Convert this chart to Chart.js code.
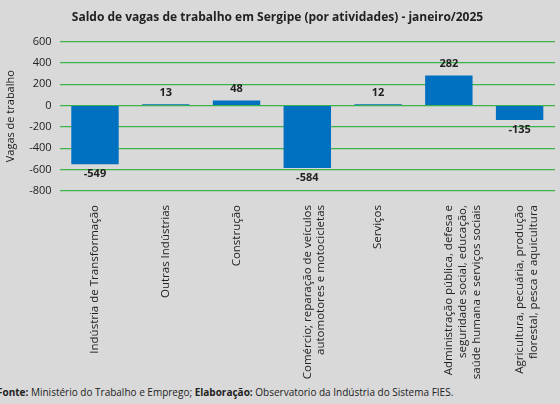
<!DOCTYPE html>
<html>
<head>
<meta charset="utf-8">
<script src="https://cdn.jsdelivr.net/npm/chart.js@4"></script>
<style>
  body { margin: 0; background: #d9d9d9; }
  #wrap { width: 560px; height: 382px; position: relative; }
  #foot { font-size: 10px; color: #222; margin-top: 3px; margin-left: -3px; font-family: "Liberation Sans Narrow", "Open Sans", sans-serif; }
</style>
</head>
<body>
<div id="wrap"><canvas id="chart"></canvas></div>
<div id="foot"><b>Fonte:</b> Ministério do Trabalho e Emprego; <b>Elaboração:</b> Observatorio da Indústria do Sistema FIES.</div>
<script>
const categories = [
  ["Indústria de Transformação"],
  ["Outras Indústrias"],
  ["Construção"],
  ["Comércio; reparação de veículos", "automotores e motocicletas"],
  ["Serviços"],
  ["Administração pública, defesa e", "seguridade social, educação,", "saúde humana e serviços sociais"],
  ["Agricultura, pecuária, produção", "florestal, pesca e aquicultura"]
];
const saldo = [-549, 13, 48, -584, 12, 282, -135];

const narrow = '"Liberation Sans Narrow", "Open Sans", sans-serif';

// value labels above positive bars, below negative ones
const valueLabels = {
  id: 'valueLabels',
  afterDatasetsDraw(chart) {
    const ctx = chart.ctx;
    ctx.save();
    ctx.font = 'bold 11px ' + narrow;
    ctx.fillStyle = '#222';
    ctx.textAlign = 'center';
    chart.getDatasetMeta(0).data.forEach((bar, i) => {
      const v = saldo[i];
      if (v >= 0) {
        ctx.textBaseline = 'bottom';
        ctx.fillText(v, bar.x, bar.y - 6);
      } else {
        ctx.textBaseline = 'top';
        ctx.fillText(v, bar.x, bar.y + 4);
      }
    });
    ctx.restore();
  }
};

new Chart(document.getElementById('chart'), {
  type: 'bar',
  data: {
    labels: categories,
    datasets: [{
      data: saldo,
      backgroundColor: '#0070c0',
      categoryPercentage: 0.67,
      barPercentage: 1
    }]
  },
  options: {
    responsive: true,
    maintainAspectRatio: false,
    animation: false,
    layout: { padding: { left: 0, right: 5, top: 0 } },
    plugins: {
      legend: { display: false },
      tooltip: { enabled: false },
      title: {
        display: true,
        text: 'Saldo de vagas de trabalho em Sergipe (por atividades) - janeiro/2025',
        color: '#222',
        font: { size: 12, weight: 'bold', family: narrow },
        padding: { top: 10, bottom: 17 }
      }
    },
    scales: {
      y: {
        min: -800, max: 600,
        ticks: { stepSize: 200, color: '#222', font: { size: 11, family: narrow }, padding: 8 },
        grid: { color: '#3cb44b', lineWidth: 1.2, drawTicks: false },
        border: { display: false },
        title: { display: true, text: 'Vagas de trabalho', color: '#222', font: { size: 11, family: narrow }, padding: 4 }
      },
      x: {
        grid: { display: false },
        border: { display: false },
        ticks: { color: '#222', maxRotation: 90, minRotation: 90, font: { size: 11.5, family: narrow }, padding: 6 }
      }
    }
  },
  plugins: [valueLabels]
});
</script>
</body>
</html>
